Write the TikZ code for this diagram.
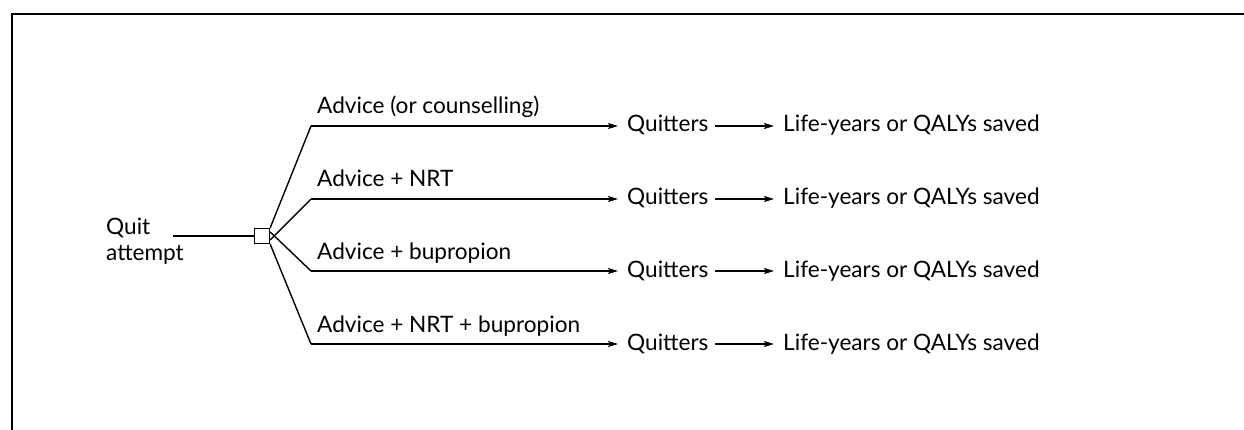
\documentclass[tikz,border=0pt]{standalone}
\usepackage{fontspec}
\setmainfont{Lato}
\usetikzlibrary{arrows.meta}
\begin{document}
\begin{tikzpicture}[x=1pt,y=-1pt,
  lbl/.style={font=\fontsize{22.6}{27}\selectfont, inner sep=0pt, anchor=base west},
  ln/.style={line width=1.4pt},
  arr/.style={line width=1.4pt, -{Stealth[length=10pt,width=6pt,inset=2pt]}}]
\useasboundingbox (0,0) rectangle (1244,430);
\draw[line width=2pt] (12,432) -- (12,14) -- (1246,14);
% root
\node[lbl] (quit) at (106,235) {Quit};
\node[lbl] (att) at (106,261) {attempt};
\node[draw, line width=1.4pt, minimum size=15pt, inner sep=0pt, fill=white] (sq) at (262,236) {};
\coordinate (qe) at (173,236);
\draw[ln] (qe) -- (sq.west);
% rows
\foreach \i/\y/\t in {1/126/{Advice (or counselling)},2/199/{Advice + NRT},3/271/{Advice + bupropion},4/344/{Advice + NRT + bupropion}}{
  \coordinate (k\i) at (311,\y);
  \node[lbl] (a\i) at (317,\y-12) {\t};
  \node[lbl] (q\i) at (627,\y+6) {Quitters};
  \node[lbl] (l\i) at (783,\y+6) {Life-years or QALYs saved};
  \coordinate (qa\i) at (618,\y);
  \coordinate (qb\i) at (715,\y);
  \coordinate (lb\i) at (774,\y);
  \draw[arr] (k\i) -- (qa\i);
  \draw[arr] (qb\i) -- (lb\i);
}
\draw[ln] (sq.north east) -- (k1);
\draw[ln] ([yshift=-4pt]sq.east) -- (k2);
\draw[ln] ([yshift=4pt]sq.east) -- (k3);
\draw[ln] (sq.south east) -- (k4);
\end{tikzpicture}
\end{document}
